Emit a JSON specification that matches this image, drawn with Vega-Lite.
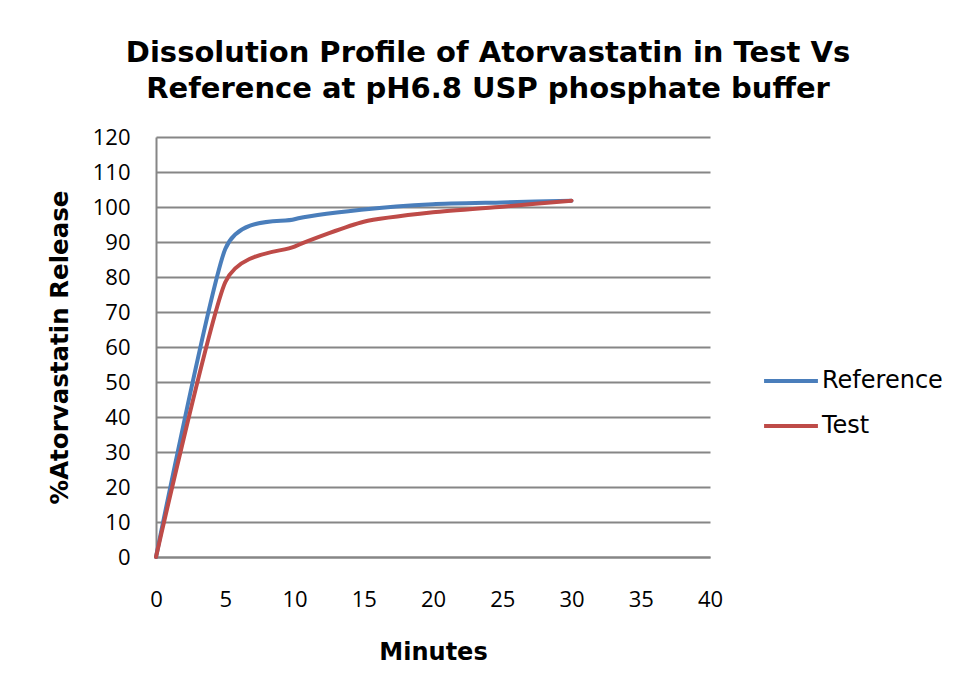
{
  "$schema": "https://vega.github.io/schema/vega-lite/v6.json",
  "width": 554,
  "height": 420,
  "autosize": "none",
  "padding": {"left": 156, "top": 137, "right": 248, "bottom": 134},
  "background": "white",
  "title": {
    "text": ["Dissolution Profile of Atorvastatin in Test Vs", "Reference at pH6.8 USP phosphate buffer"],
    "font": "DejaVu Sans",
    "fontSize": 29,
    "fontWeight": "bold",
    "color": "#000000",
    "lineHeight": 36,
    "anchor": "middle",
    "frame": "group",
    "dx": 55,
    "offset": 22
  },
  "data": {
    "values": [
      {"min": 0, "pct": 0, "series": "Reference"},
      {"min": 5, "pct": 88, "series": "Reference"},
      {"min": 10, "pct": 96.5, "series": "Reference"},
      {"min": 15, "pct": 99.3, "series": "Reference"},
      {"min": 20, "pct": 100.8, "series": "Reference"},
      {"min": 25, "pct": 101.3, "series": "Reference"},
      {"min": 30, "pct": 101.8, "series": "Reference"},
      {"min": 0, "pct": 0, "series": "Test"},
      {"min": 5, "pct": 78.5, "series": "Test"},
      {"min": 10, "pct": 88.7, "series": "Test"},
      {"min": 15, "pct": 95.8, "series": "Test"},
      {"min": 20, "pct": 98.5, "series": "Test"},
      {"min": 25, "pct": 100.1, "series": "Test"},
      {"min": 30, "pct": 101.8, "series": "Test"}
    ]
  },
  "mark": {"type": "line", "interpolate": "cardinal", "tension": 0.4, "strokeWidth": 4, "strokeCap": "round", "strokeJoin": "round"},
  "encoding": {
    "x": {
      "field": "min",
      "type": "quantitative",
      "scale": {"domain": [0, 40], "nice": false},
      "axis": {
        "title": "Minutes",
        "values": [0, 5, 10, 15, 20, 25, 30, 35, 40],
        "grid": false,
        "ticks": false,
        "domainColor": "#868686",
        "domainWidth": 2,
        "labelFont": "Open Sans",
        "labelFontSize": 22,
        "labelColor": "#000000",
        "labelPadding": 32,
        "labelFlush": false,
        "titleFont": "DejaVu Sans",
        "titleFontSize": 24,
        "titleFontWeight": "bold",
        "titleColor": "#000000",
        "titlePadding": 30
      }
    },
    "y": {
      "field": "pct",
      "type": "quantitative",
      "scale": {"domain": [0, 120], "nice": false},
      "axis": {
        "title": "%Atorvastatin Release",
        "values": [0, 10, 20, 30, 40, 50, 60, 70, 80, 90, 100, 110, 120],
        "grid": true,
        "gridColor": "#868686",
        "gridWidth": 2,
        "ticks": false,
        "domainColor": "#868686",
        "domainWidth": 2,
        "labelFont": "Open Sans",
        "labelFontSize": 22,
        "labelColor": "#000000",
        "labelPadding": 26,
        "labelFlush": false,
        "titleFont": "DejaVu Sans",
        "titleFontSize": 24.5,
        "titleFontWeight": "bold",
        "titleColor": "#000000",
        "titlePadding": 20
      }
    },
    "color": {
      "field": "series",
      "type": "nominal",
      "scale": {"domain": ["Reference", "Test"], "range": ["#4A7EBB", "#BE4B48"]},
      "legend": {
        "title": null,
        "orient": "none",
        "legendX": 606,
        "legendY": 215,
        "symbolType": "stroke",
        "symbolStrokeWidth": 4,
        "symbolSize": 2900,
        "labelFont": "DejaVu Sans",
        "labelFontSize": 24,
        "labelColor": "#000000",
        "labelOffset": 2,
        "rowPadding": 4
      }
    }
  },
  "config": {
    "view": {"stroke": null}
  }
}
